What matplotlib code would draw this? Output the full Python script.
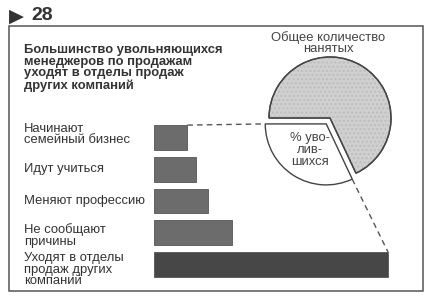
import matplotlib
matplotlib.use("Agg")
import matplotlib.pyplot as plt
from matplotlib.patches import Rectangle, Wedge
from matplotlib.transforms import blended_transform_factory
import numpy as np

plt.rcParams['font.family'] = ['Liberation Sans', 'DejaVu Sans']

# данные
labels = ["Начинают\nсемейный бизнес", "Идут учиться", "Меняют профессию",
          "Не сообщают\nпричины", "Уходят в отделы\nпродаж других\nкомпаний"]
values = [7.5, 9.5, 12, 17.5, 52]
bar_colors = ['#6c6c6c', '#6c6c6c', '#6c6c6c', '#6c6c6c', '#474747']
pie_values = [32, 68]   # % уволившихся / остальные нанятые
pie_colors = ['white', '#d0d0d0']

title = "Большинство увольняющихся\nменеджеров по продажам\nуходят в отделы продаж\nдругих компаний"

W, H = 433, 302
fig = plt.figure(figsize=(W / 100, H / 100), dpi=100)

# фон в пикселях (y снизу вверх)
ax0 = fig.add_axes([0, 0, 1, 1])
ax0.set_xlim(0, W)
ax0.set_ylim(0, H)
ax0.axis('off')

# рамка
ax0.add_patch(Rectangle((9, H - 291), 414, 265, fill=False, edgecolor='#555555', lw=1.1))
ax0.text(9, H - 16, "▶", fontsize=14, color='#333333', va='center', ha='left', family='DejaVu Sans')
ax0.text(31, H - 16, "28", fontsize=14, fontweight='bold', color='#333333', va='center', ha='left')

ax0.text(24, H - 44, title, fontsize=9.4, fontweight='bold', color='#333333',
         va='top', ha='left', linespacing=0.97)

# круговая диаграмма
wedges, _ = ax0.pie(pie_values, colors=pie_colors, startangle=180, center=(330, H - 118),
                    radius=61, explode=[7, 0], frame=True,
                    wedgeprops=dict(edgecolor='#444444', linewidth=1))
g = wedges[1]
ax0.add_patch(Wedge(g.center, g.r, g.theta1, g.theta2, facecolor='none',
                    edgecolor='#bdbdbd', lw=0, hatch='....'))
ax0.add_patch(Wedge(g.center, g.r, g.theta1, g.theta2, facecolor='none',
                    edgecolor='#444444', lw=1))
ax0.set_xlim(0, W)
ax0.set_ylim(0, H)
ax0.set_aspect('auto')
ax0.axis('off')

ax0.text(328, H - 43, "Общее количество\nнанятых", fontsize=9.4, color='#444444',
         ha='center', va='center', linespacing=0.95)
ax0.text(310, H - 150, "% уво-\nлив-\nшихся", fontsize=9.4, color='#444444',
         ha='center', va='center', linespacing=1.0)

# столбцы
px_per_unit = 4.51
xmax = 55
step = 31.75
ax = fig.add_axes([153.5 / W, (H - (137.5 - step / 2) - 5 * step) / H,
                   xmax * px_per_unit / W, 5 * step / H])
ypos = np.arange(len(values))
bars = ax.barh(ypos, values, height=0.78, color=bar_colors, edgecolor='#555555', lw=0.6)
ax.set_xlim(0, xmax)
ax.set_ylim(len(values) - 0.5, -0.5)
ax.axis('off')
ax.patch.set_alpha(0)

# сдвиг подписей относительно центра столбца (в пикселях)
label_shift = [-3, 0, 0, 3, 5]
tr = blended_transform_factory(ax0.transData, ax.transData)
for i, lab in enumerate(labels):
    ax0.text(24, ypos[i] + label_shift[i] / step, lab, fontsize=9.4, color='#333333',
             ha='left', va='center', linespacing=0.95, transform=tr)

# пунктирные выноски
to0 = ax0.transData.inverted()
def bar_corner(b):
    return to0.transform(ax.transData.transform((b.get_width(), b.get_y())))

w = wedges[0]
def wpt(theta):
    t = np.radians(theta)
    return (w.center[0] + w.r * np.cos(t), w.center[1] + w.r * np.sin(t))

p1 = bar_corner(bars[0])
q1 = wpt(w.theta1)
p2 = bar_corner(bars[-1])
q2 = wpt(w.theta2)
ax0.plot([p1[0], q1[0]], [p1[1], q1[1]], ls=(0, (4, 3)), color='#555555', lw=1)
ax0.plot([q2[0], p2[0]], [q2[1], p2[1]], ls=(0, (4, 3)), color='#555555', lw=1)

fig.savefig("out.png", dpi=100, facecolor='white')
